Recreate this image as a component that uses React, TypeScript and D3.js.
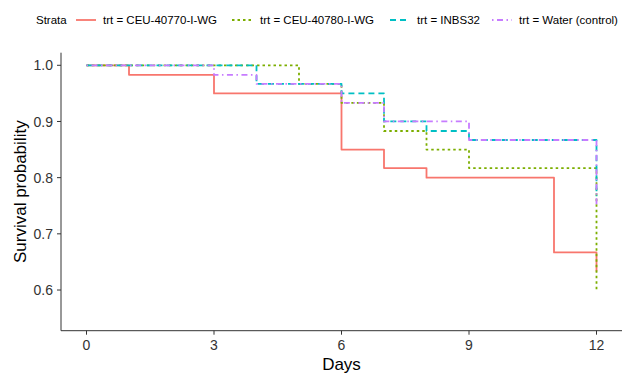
import { FC } from 'react';
import * as d3 from 'd3';

// Kaplan-Meier steps (day, survival)
const strata = ['trt = CEU-40770-I-WG', 'trt = CEU-40780-I-WG', 'trt = INBS32', 'trt = Water (control)'];
const days = [
  [0, 1, 3, 6, 7, 8, 11, 12],
  [0, 5, 6, 7, 8, 9, 12],
  [0, 4, 6, 7, 8, 9, 12],
  [0, 3, 4, 6, 7, 9, 12],
];
const survival = [
  [1, 0.983, 0.95, 0.85, 0.817, 0.8, 0.667, 0.633],
  [1, 0.967, 0.933, 0.883, 0.85, 0.817, 0.6],
  [1, 0.967, 0.95, 0.9, 0.883, 0.867, 0.767],
  [1, 0.983, 0.967, 0.933, 0.9, 0.867, 0.75],
];
const xTicks = [0, 3, 6, 9, 12];
const yTicks = [0.6, 0.7, 0.8, 0.9, 1.0];

const colors = ['#F8766D', '#7CAE00', '#00BFC4', '#C77CFF'];
const dashes = ['', '2.5,3', '6,4', '1.5,3.5,6,3.5'];

const W = 624;
const H = 375;
const plot = { left: 61, right: 622, top: 52.7, bottom: 330.7 };
const font = '"Liberation Sans", Arial, sans-serif';

const App: FC = () => {
  const x = d3.scaleLinear().domain([-0.6, 12.6]).range([plot.left, plot.right]);
  const y = d3.scaleLinear().domain([0.5276, 1.0224]).range([plot.bottom, plot.top]);

  const line = d3
    .line<[number, number]>()
    .x((d) => x(d[0]))
    .y((d) => y(d[1]))
    .curve(d3.curveStepAfter);

  // legend layout: key start and text start for each stratum
  const legendY = 20;
  const legendKeys = [76, 232, 390, 492];
  const legendText = [103, 260, 417, 519];

  return (
    <svg width={W} height={H} style={{ position: 'absolute', left: 0, top: 0, background: '#fff' }}>
      {/* Legend */}
      <text x={36} y={legendY + 4} fontFamily={font} fontSize={11.5} fill="#000">
        Strata
      </text>
      {strata.map((s, i) => (
        <g key={s}>
          <line
            x1={legendKeys[i]}
            x2={legendKeys[i] + 20}
            y1={legendY}
            y2={legendY}
            stroke={colors[i]}
            strokeWidth={1.8}
            strokeDasharray={dashes[i] || undefined}
          />
          <text x={legendText[i]} y={legendY + 4} fontFamily={font} fontSize={11.5} fill="#000">
            {s}
          </text>
        </g>
      ))}

      {/* Curves */}
      {strata.map((s, i) => (
        <path
          key={s}
          d={line(days[i].map((d, j) => [d, survival[i][j]] as [number, number])) || ''}
          fill="none"
          stroke={colors[i]}
          strokeWidth={1.8}
          strokeLinejoin="round"
          strokeDasharray={dashes[i] || undefined}
        />
      ))}

      {/* Axes */}
      <line x1={plot.left} x2={plot.left} y1={plot.top} y2={plot.bottom} stroke="#333" strokeWidth={1} />
      <line x1={plot.left} x2={plot.right} y1={plot.bottom} y2={plot.bottom} stroke="#333" strokeWidth={1} />
      {yTicks.map((t) => (
        <g key={t}>
          <line x1={plot.left - 4} x2={plot.left} y1={y(t)} y2={y(t)} stroke="#333" />
          <text
            x={plot.left - 8}
            y={y(t)}
            dy="0.36em"
            textAnchor="end"
            fontFamily={font}
            fontSize={14}
            fill="#333"
          >
            {t.toFixed(1)}
          </text>
        </g>
      ))}
      {xTicks.map((t) => (
        <g key={t}>
          <line x1={x(t)} x2={x(t)} y1={plot.bottom} y2={plot.bottom + 4} stroke="#333" />
          <text x={x(t)} y={349.5} textAnchor="middle" fontFamily={font} fontSize={14} fill="#333">
            {t}
          </text>
        </g>
      ))}

      {/* Axis titles */}
      <text x={(plot.left + plot.right) / 2} y={370} textAnchor="middle" fontFamily={font} fontSize={17} fill="#000">
        Days
      </text>
      <text
        transform={`translate(26,${(plot.top + plot.bottom) / 2}) rotate(-90)`}
        textAnchor="middle"
        fontFamily={font}
        fontSize={17}
        fill="#000"
      >
        Survival probability
      </text>
    </svg>
  );
};

export default App;
